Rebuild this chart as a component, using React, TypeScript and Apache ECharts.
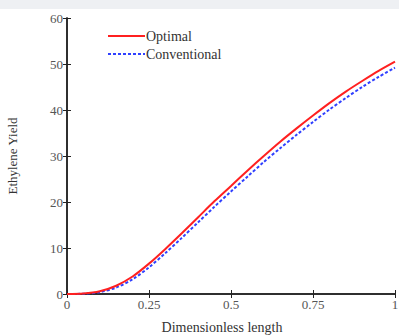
import React, { useEffect, useRef } from "react";
import * as echarts from "echarts";

const xValues = [0, 0.05, 0.1, 0.15, 0.2, 0.25, 0.3, 0.35, 0.4, 0.45, 0.5, 0.55, 0.6, 0.65, 0.7, 0.75, 0.8, 0.85, 0.9, 0.95, 1];
const optimal = [0, 0.1, 0.6, 1.8, 3.8, 6.6, 9.8, 13.2, 16.7, 20.2, 23.5, 26.8, 30.0, 33.1, 36.0, 38.8, 41.5, 44.0, 46.3, 48.5, 50.5];
const conventional = [0, 0.05, 0.4, 1.4, 3.2, 5.8, 8.9, 12.2, 15.6, 19.0, 22.3, 25.5, 28.7, 31.7, 34.6, 37.4, 40.1, 42.6, 45.0, 47.2, 49.2];
const seriesNames = ["Optimal", "Conventional"];

const font = "'Liberation Serif', 'DejaVu Serif', serif";

export default function App() {
  const ref = useRef<HTMLDivElement>(null);
  useEffect(() => {
    const chart = echarts.init(ref.current!, null, { renderer: "svg" });
    const axisLine = { show: true, lineStyle: { color: "#222", width: 1.5 } };
    const tick = { show: true, inside: true, length: 4, lineStyle: { color: "#222", width: 1 } };
    chart.setOption({
      animation: false,
      backgroundColor: "#fff",
      graphic: [
        { type: "rect", left: 0, top: 0, shape: { width: 399, height: 9 }, style: { fill: "#eef0f3" }, silent: true },
      ],
      grid: { left: 67, right: 4, top: 18, bottom: 42, containLabel: false, outerBoundsMode: "none" },
      legend: {
        orient: "vertical",
        left: 102,
        top: 24,
        itemWidth: 37,
        itemHeight: 10,
        itemGap: 4,
        itemStyle: { opacity: 0 },
        textStyle: { fontFamily: font, fontSize: 14, color: "#333", padding: [0, 0, 0, -4] },
        data: seriesNames,
      },
      xAxis: [
        {
          type: "value",
          min: 0,
          max: 1,
          interval: 0.25,
          name: "Dimensionless length",
          nameLocation: "middle",
          nameGap: 26,
          nameTextStyle: { fontFamily: font, fontSize: 14, color: "#333", padding: [0, 18, 0, 0] },
          axisLine,
          axisTick: tick,
          axisLabel: { fontFamily: font, fontSize: 13, color: "#555", margin: 4, formatter: (v: number) => String(v) },
          splitLine: { show: false },
        },
        {
          type: "value",
          position: "top",
          min: 0,
          max: 1,
          interval: 0.25,
          axisLine,
          axisTick: tick,
          axisLabel: { show: false },
          splitLine: { show: false },
        },
      ],
      yAxis: [
        {
          type: "value",
          min: 0,
          max: 60,
          interval: 10,
          name: "Ethylene Yield",
          nameLocation: "middle",
          nameGap: 48,
          nameTextStyle: { fontFamily: font, fontSize: 13, color: "#333" },
          axisLine,
          axisTick: tick,
          axisLabel: { fontFamily: font, fontSize: 13, color: "#555", margin: 4 },
          splitLine: { show: false },
        },
        {
          type: "value",
          position: "right",
          min: 0,
          max: 60,
          interval: 10,
          axisLine,
          axisTick: tick,
          axisLabel: { show: false },
          splitLine: { show: false },
        },
      ],
      series: [
        {
          name: seriesNames[0],
          type: "line",
          symbol: "none",
          smooth: 0.3,
          data: xValues.map((x, i) => [x, optimal[i]]),
          lineStyle: { color: "#ff2020", width: 2 },
          itemStyle: { color: "#ff2020" },
          z: 3,
        },
        {
          name: seriesNames[1],
          type: "line",
          symbol: "none",
          smooth: 0.3,
          data: xValues.map((x, i) => [x, conventional[i]]),
          lineStyle: { color: "#3040ff", width: 2, type: [3, 2] },
          itemStyle: { color: "#3040ff" },
          z: 2,
        },
      ],
    });
    return () => chart.dispose();
  }, []);
  return <div ref={ref} style={{ width: 399, height: 336, position: "absolute", left: 0, top: 0 }} />;
}
